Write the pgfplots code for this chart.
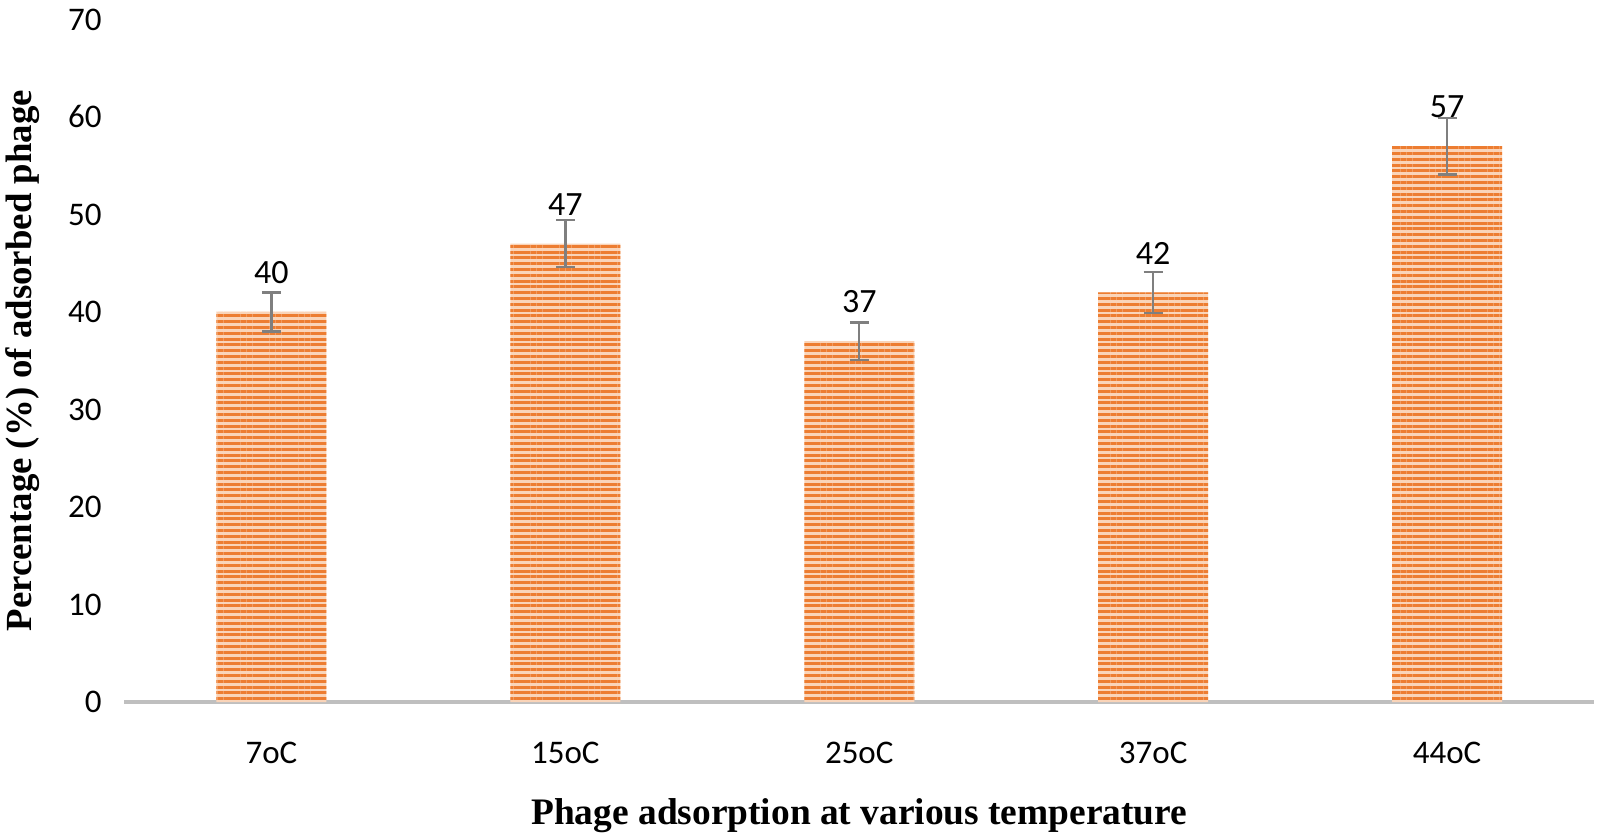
\documentclass[border=0pt]{standalone}
\usepackage{pgfplots}
\pgfplotsset{compat=1.18}
\usepackage{pgfplotstable}
\usetikzlibrary{patterns.meta}
\usepackage{fontspec}
\setmainfont{Carlito}
\newfontfamily\serifb{Liberation Serif}
\definecolor{barorange}{HTML}{ED7D31}
\definecolor{peach}{HTML}{FAD4B8}
\definecolor{errgray}{HTML}{7F7F7F}
\definecolor{axgray}{HTML}{BFBFBF}
\pgfplotstableread{
x y err
0 40 2.0
1 47 2.4
2 37 1.9
3 42 2.1
4 57 2.9
}\data
\begin{document}
\begin{tikzpicture}
\begin{pgfinterruptboundingbox}
\begin{axis}[
  scale only axis,
  width=734.75pt, height=341.3pt,
  xmin=-0.5, xmax=4.5, ymin=0, ymax=70,
  xtick=data, xticklabels={7oC,15oC,25oC,37oC,44oC},
  ytick={0,10,...,70},
  major tick length=0pt,
  axis x line*=bottom, axis y line*=left,
  x axis line style={draw=axgray, line width=2pt, -},
  y axis line style={draw=none},
  /pgf/number format/assume math mode=true,
  ticklabel style={font=\fontsize{16.5}{19}\selectfont},
  yticklabel style={anchor=east, inner sep=0pt, xshift=-11.25pt},
  xticklabel style={anchor=center, yshift=-25.5pt},
  xlabel={\serifb\bfseries Phage adsorption at various temperature},
  ylabel={\serifb\bfseries Percentage (\%) of adsorbed phage},
  xlabel style={font=\fontsize{18.7}{22}\selectfont, at={(axis description cs:0.5,-0.167)}, anchor=center},
  ylabel style={font=\fontsize{18.4}{22}\selectfont, at={(axis description cs:-0.0694,0.5)}, anchor=center},
  clip=false,
]
\addplot[ybar, bar width=55pt, draw=none, fill=peach,
  postaction={pattern={Lines[angle=0,distance=2.9pt,line width=1.5pt]}, pattern color=barorange},
  nodes near coords,
  every node near coord/.append style={text=black, anchor=south, inner sep=0pt, yshift=14pt, font=\fontsize{17}{20}\selectfont, /pgf/number format/assume math mode=true},
  error bars/.cd, y dir=both, y explicit,
  error bar style={draw=errgray, line width=1.2pt},
  error mark options={draw=errgray, rotate=90, mark size=4.75pt, line width=1.2pt},
] table[x=x, y=y, y error=err]{\data};
\end{axis}
\end{pgfinterruptboundingbox}
\path (-62.25pt,-65pt) rectangle (737.75pt,351pt);
\end{tikzpicture}
\end{document}
